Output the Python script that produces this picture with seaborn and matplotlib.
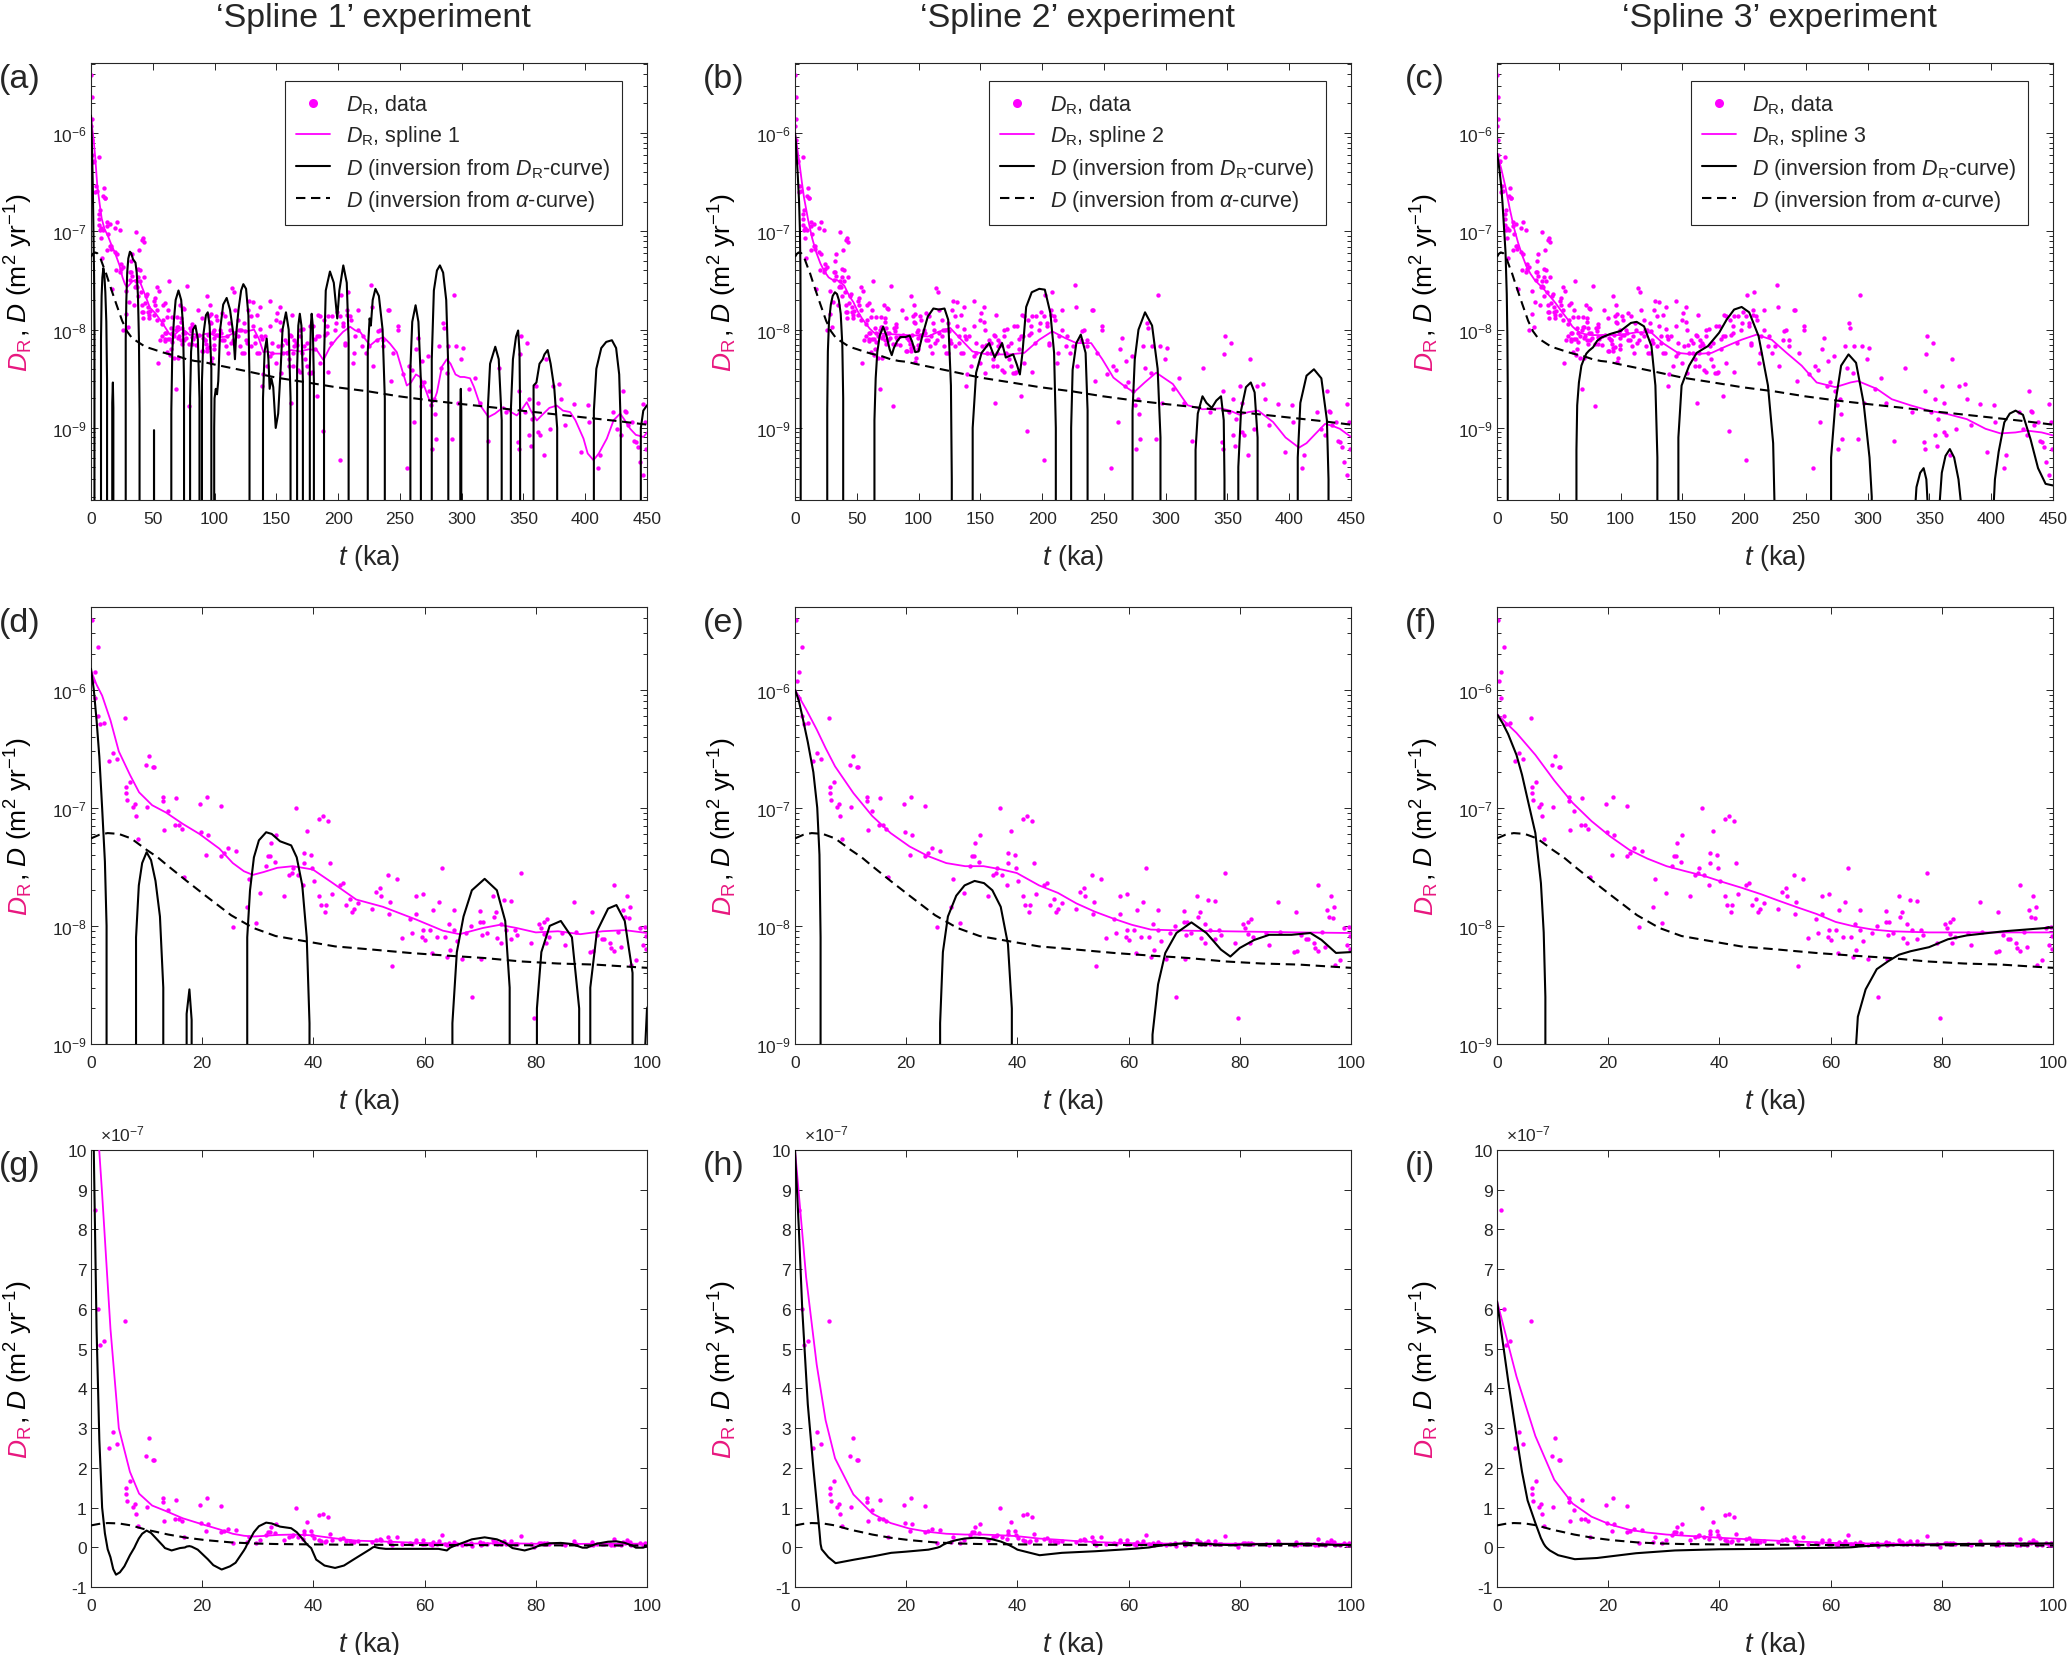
import numpy as np
import pandas as pd
import matplotlib
matplotlib.use('Agg')
import matplotlib.pyplot as plt
from matplotlib.lines import Line2D
import seaborn as sns

# ---------------- data ----------------
# D_R data points (same in every panel), t in ka, D in m^2/yr
t_data = [0.1, 1.2, 0.7, 0.3, 0.7, 1.2, 1.6, 2.4, 6.2, 3.3, 3.9, 4.7, 6.3, 6.3, 6.5, 7.1, 7.5, 7.9, 8.1, 8.5,
          9.9, 10.4, 11.1, 11.4, 10.0, 13.0, 13.0, 13.2, 13.8, 15.2, 15.1, 15.8, 16.4, 16.7, 19.6, 19.8, 20.9, 21.1, 20.6, 23.4,
          23.4, 23.9, 24.6, 26.0, 25.6, 28.4, 28.0, 29.6, 30.4, 31.4, 31.8, 32.2, 32.4, 33.2, 33.1, 34.8, 35.6, 36.2, 36.8, 36.4,
          37.2, 38.1, 38.3, 38.3, 38.9, 39.5, 39.8, 40.1, 41.0, 41.7, 42.6, 41.0, 41.3, 42.1, 42.2, 43.0, 43.4, 44.7, 45.4, 45.9,
          46.5, 46.9, 47.3, 48.1, 50.6, 51.3, 51.9, 52.1, 53.4, 53.8, 53.6, 55.0, 54.1, 55.9, 57.3, 57.8, 58.5, 58.5, 59.5, 59.8,
          59.7, 60.0, 61.0, 61.4, 61.6, 62.3, 62.6, 63.1, 63.6, 64.1, 64.4, 64.5, 65.2, 65.3, 65.9, 66.8, 67.4, 68.4, 68.5, 70.0,
          70.0, 70.1, 70.3, 70.5, 71.3, 72.3, 72.5, 72.9, 73.0, 73.7, 73.8, 74.3, 74.6, 75.6, 75.6, 76.2, 76.6, 77.3, 79.1, 79.6,
          80.5, 80.9, 81.4, 81.4, 82.1, 81.8, 82.3, 84.8, 85.3, 86.8, 87.3, 89.7, 90.1, 90.3, 91.0, 91.9, 92.3, 93.3, 93.5, 94.0,
          94.1, 94.7, 95.3, 95.7, 96.0, 96.4, 96.8, 97.0, 97.1, 98.0, 98.7, 99.3, 99.6, 99.9, 99.8,
          100.8, 102.3, 104.5, 106.3, 108.4, 109.9, 111.4, 113.0, 114.5, 115.4, 116.6, 119.0, 120.6, 121.5, 123.6, 125.7, 128.2,
          129.7, 131.2, 132.7, 134.2, 136.7, 138.8, 140.9, 142.7, 144.9, 146.4, 149.4, 150.9, 154.0, 155.5, 158.5, 160.0, 161.6,
          163.1, 164.6, 167.6, 169.1, 172.2, 175.2, 176.7, 179.8, 182.8, 184.3, 187.4, 188.9, 191.3, 195.0, 198.0, 201.6, 202.6,
          204.1, 207.1, 210.1, 211.7, 213.8, 216.2, 219.3, 222.3, 226.8, 227.8, 228.4, 231.4, 233.8, 236.0, 240.5, 243.0, 248.1,
          252.7, 255.7, 260.2, 261.8, 263.3, 264.8, 267.8, 269.4, 272.4, 273.3, 275.4, 276.3, 277.6, 278.5, 279.4, 281.5, 283.0,
          284.5, 285.5, 289.1, 292.1, 293.7, 295.2, 296.7, 299.7, 301.2, 310.4, 321.0, 330.1, 345.3, 346.8, 346.8, 348.3, 347.5,
          351.3, 352.8, 354.4, 354.4, 355.9, 360.4, 362.0, 362.0, 363.5, 366.5, 368.0, 371.1, 374.1, 378.7, 380.2, 390.8, 396.9,
          403.0, 410.6, 412.1, 422.7, 425.7, 430.3, 431.8, 433.3, 434.9, 437.9, 439.4, 440.9, 442.4, 444.0, 447.0, 447.0, 448.5,
          449.4,
          103.0, 106.0, 107.5, 110.5, 116.6, 119.6, 124.1, 126.2, 127.4, 133.1, 139.1, 145.1, 149.6, 152.6, 157.1, 161.6, 160.1,
          164.6, 170.6, 173.6, 178.1, 182.6, 185.6, 191.6, 197.7, 203.7, 209.7, 215.7, 232.2, 236.7, 241.2, 248.7,
          131.4, 134.1, 136.8, 138.1, 144.9, 153.0, 154.3, 161.1, 162.4, 166.5, 169.2, 171.9, 178.6, 181.3, 184.0, 190.8, 192.1,
          198.9, 205.6, 207.0, 208.3,
          101.5, 105.1, 109.0, 112.9, 115.0, 119.0, 122.6, 125.0, 129.2, 136.0, 137.6, 146.6, 151.0, 154.0, 158.6, 163.1, 166.1,
          169.1, 175.1, 177.2, 181.1, 185.6, 189.2, 194.6, 201.3, 205.2, 212.7, 220.2, 224.7, 244.2, 257.7, 266.7, 287.8, 305.8,
          314.8, 335.8, 356.9, 383.9, 401.9, 429.0]
D_data = [3.9e-6, 2.3e-6, 1.4e-6, 1.18e-6, 8.5e-7, 6.0e-7, 5.1e-7, 5.2e-7, 5.7e-7, 2.5e-7, 2.9e-7, 2.6e-7, 1.5e-7, 1.33e-7,
          1.17e-7, 1.66e-7, 1.02e-7, 1.08e-7, 8.5e-8, 5.4e-8,
          2.3e-7, 2.75e-7, 2.2e-7, 2.2e-7, 1.02e-7, 1.23e-7, 1.13e-7, 6.5e-8, 9.3e-8, 1.2e-7, 7.1e-8, 7.1e-8, 6.6e-8, 2.6e-8,
          1.07e-7, 6.2e-8, 1.23e-7, 5.9e-8, 4.0e-8, 1.03e-7,
          3.9e-8, 4.1e-8, 4.6e-8, 4.3e-8, 9.8e-9, 2.5e-8, 1.45e-8, 1.06e-8, 1.9e-8, 3.2e-8, 3.9e-8, 3.9e-8, 5.0e-8, 5.9e-8,
          3.5e-8, 1.8e-8, 2.7e-8, 2.8e-8, 9.9e-8, 3.1e-8,
          2.7e-8, 2.2e-8, 3.4e-8, 4.1e-8, 6.4e-8, 4.0e-8, 3.1e-8, 2.4e-8, 8.1e-8, 8.5e-8, 7.7e-8, 1.8e-8, 1.5e-8, 1.3e-8,
          1.5e-8, 3.4e-8, 1.85e-8, 2.2e-8, 2.3e-8, 1.5e-8,
          1.7e-8, 1.3e-8, 1.4e-8, 1.55e-8, 1.4e-8, 1.95e-8, 2.1e-8, 1.8e-8, 2.7e-8, 1.6e-8, 1.25e-8, 2.5e-8, 4.6e-9, 7.9e-9,
          1.15e-8, 8.7e-9, 1.8e-8, 1.26e-8, 8.1e-9, 1.87e-8,
          9.3e-9, 7.6e-9, 9.3e-9, 5.9e-9, 1.35e-8, 8.1e-9, 1.6e-8, 3.1e-8, 8.0e-9, 5.5e-9, 1.03e-8, 6.3e-9, 1.35e-8, 9.2e-9,
          7.5e-9, 5.2e-9, 8.7e-9, 9.9e-9, 2.5e-9, 1.33e-8,
          1.07e-8, 5.2e-9, 8.3e-9, 1.07e-8, 8.7e-9, 1.8e-8, 1.2e-8, 1.3e-8, 7.9e-9, 1.04e-8, 7.1e-9, 1.66e-8, 9.3e-9, 1.62e-8,
          7.8e-9, 9.2e-9, 8.3e-9, 2.8e-8, 7.1e-9, 1.66e-9,
          1.04e-8, 9.6e-9, 1.07e-8, 8.5e-9, 1.15e-8, 7.2e-9, 8.0e-9, 8.7e-9, 6.9e-9, 1.58e-8, 8.9e-9, 6.0e-9, 1.32e-8, 6.1e-9,
          8.3e-9, 7.8e-9, 7.8e-9, 7.2e-9, 6.5e-9, 2.2e-8,
          6.1e-9, 8.8e-9, 6.6e-9, 1.37e-8, 1.2e-8, 1.79e-8, 1.17e-8, 1.45e-8, 4.7e-9, 5.1e-9, 9.5e-9, 6.9e-9, 9.8e-9, 8.2e-9,
          6.4e-9,
          8.9e-9, 1.26e-8, 1.0e-8, 7.9e-9, 1.36e-8, 8.6e-9, 1.17e-8, 7.3e-9, 2.63e-8, 2.4e-8, 9.3e-9, 1.26e-8, 6.8e-9, 1.0e-8,
          5.8e-9, 7.9e-9, 1.95e-8,
          1.36e-8, 1.08e-8, 7.3e-9, 5.8e-9, 1.7e-8, 2.7e-9, 8.6e-9, 4.3e-9, 1.95e-8, 5.8e-9, 4.6e-9, 1.47e-8, 3.65e-9, 5.8e-9,
          7.3e-9, 4.3e-9, 1.8e-9,
          5.8e-9, 7.9e-9, 3.9e-9, 1.0e-8, 6.8e-9, 4.3e-9, 3.65e-9, 1.08e-8, 2.1e-9, 8.6e-9, 9.4e-10, 1.26e-8, 9.3e-9, 1.36e-8,
          1.17e-8, 4.7e-10, 2.25e-8,
          1.08e-8, 1.6e-8, 1.26e-8, 4.6e-9, 8.6e-9, 1.0e-8, 6.8e-9, 5.8e-9, 2.85e-8, 1.7e-8, 4.3e-9, 7.9e-9, 1.0e-8, 6.8e-9,
          1.6e-8, 3.0e-9, 1.08e-8,
          3.5e-9, 3.9e-10, 3.9e-9, 1.14e-9, 6.3e-9, 8.2e-9, 4.8e-9, 2.9e-9, 5.4e-9, 2.4e-9, 1.7e-9, 6.1e-10, 1.96e-9, 1.38e-9,
          7.7e-10, 6.8e-9, 4.1e-9,
          1.17e-8, 1.04e-8, 6.8e-9, 7.7e-10, 2.25e-8, 6.8e-9, 1.8e-9, 5.0e-9, 6.5e-9, 3.25e-9, 7.4e-10, 4.1e-9, 7.2e-10,
          6.1e-10, 2.4e-9, 8.6e-9, 5.6e-9,
          1.44e-9, 7.3e-9, 8.4e-10, 1.96e-9, 6.6e-10, 2.7e-9, 1.8e-9, 9.0e-10, 8.4e-10, 5.3e-10, 5.0e-9, 9.8e-10, 2.7e-9,
          2.8e-9, 1.96e-9, 1.75e-9, 5.7e-10,
          1.14e-9, 3.9e-10, 5.3e-10, 1.44e-9, 9.8e-10, 2.4e-9, 1.5e-9, 1.44e-9, 1.06e-9, 1.14e-9, 7.4e-10, 7.2e-10, 6.4e-10,
          4.5e-10, 1.75e-9, 3.3e-10, 1.14e-9,
          6.1e-10,
          8.9e-9, 1.47e-8, 7.9e-9, 5.8e-9, 1.6e-8, 1.0e-8, 1.17e-8, 7.3e-9, 1.6e-8, 8.6e-9, 3.5e-9, 5.4e-9, 1.26e-8, 1.7e-8,
          7.9e-9, 8.6e-9, 5.0e-9,
          6.8e-9, 5.8e-9, 5.0e-9, 3.65e-9, 8.6e-9, 1.36e-8, 1.36e-8, 1.0e-8, 1.17e-8, 1.36e-8, 1.6e-8, 9.6e-9, 7.9e-9, 1.6e-8,
          1.0e-8,
          1.9e-8, 1.4e-8, 1.02e-8, 8.1e-9, 1.1e-8, 1.2e-8, 6.9e-9, 8.8e-9, 1.4e-8, 6.9e-9, 3.7e-9, 1.02e-8, 3.7e-9, 8.1e-9,
          1.4e-8, 1.1e-8, 3.7e-9,
          1.5e-8, 6.9e-9, 1.4e-8, 2.4e-8,
          1.36e-8, 9.3e-9, 6.8e-9, 1.0e-8, 7.9e-9, 8.6e-9, 5.8e-9, 9.6e-9, 6.8e-9, 5.8e-9, 8.6e-9, 7.3e-9, 6.8e-9, 1.0e-8,
          5.8e-9, 4.3e-9, 7.3e-9,
          8.6e-9, 7.3e-9, 1.08e-8, 6.3e-9, 4.6e-9, 8.9e-9, 7.3e-9, 1.36e-8, 7.3e-9, 5.8e-9, 8.6e-9, 6.8e-9, 5.8e-9, 4.3e-9,
          2.7e-9, 3.65e-9, 2.5e-9,
          1.8e-9, 1.44e-9, 1.23e-9, 1.06e-9, 1.7e-9, 8.4e-10]

# D from the alpha-curve (same in every panel)
t_alpha = [0, 1.5, 3, 5, 7.2, 10, 12, 13.9, 17.2, 20.6, 25.2, 29.2, 33.2, 37.2, 43.9, 50.6, 57.3, 64, 70.6, 77.3, 84,
           90.7, 98.7, 125, 150, 175, 198, 225, 249, 275, 300, 325, 348, 375, 399, 425, 450]
D_alpha = [5.5e-8, 5.9e-8, 6.1e-8, 6.0e-8, 5.5e-8, 4.4e-8, 3.8e-8, 3.2e-8, 2.4e-8, 1.8e-8, 1.23e-8, 9.6e-9, 8.2e-9,
           7.6e-9, 6.7e-9, 6.3e-9, 5.9e-9, 5.6e-9, 5.35e-9, 5.0e-9, 4.8e-9, 4.7e-9, 4.45e-9, 3.8e-9, 3.25e-9, 2.9e-9,
           2.6e-9, 2.35e-9, 2.1e-9, 1.9e-9, 1.75e-9, 1.62e-9, 1.5e-9, 1.38e-9, 1.28e-9, 1.18e-9, 1.08e-9]

# spline fits of D_R
t_spl1 = [0, 1, 2, 3.5, 5, 7, 8.65, 11, 13.5, 16.5, 19.5, 23.1, 25.5, 27.5, 29.1, 31, 33.5, 36.3, 39.9, 43.5, 47.7,
          52.5, 58.5, 63.3, 66.3, 70.5, 73.5, 76.5, 80, 84, 88, 92, 96, 100, 105, 110, 115, 121, 126, 132, 136, 139.5,
          142.3, 148, 155.7, 162, 169.2, 176, 182.7, 188.1, 193, 198.9, 204, 209.7, 214, 217.8, 222, 225.9, 231, 236.7,
          242, 247.5, 251, 255.6, 259, 263, 266.4, 270, 274, 277.2, 280, 284, 288, 291, 295, 298.8, 302, 306.8, 310, 315,
          321.7, 327, 333.8, 338, 344.6, 348, 352.7, 356, 360.8, 365, 371, 377, 382, 387.8, 392, 398.6, 402, 406.7, 411,
          417.5, 423, 428.3, 432, 436.4, 441, 447.2, 450]
D_spl1 = [1.45e-6, 1.1e-6, 8.9e-7, 5.5e-7, 3.0e-7, 1.9e-7, 1.35e-7, 1.05e-7, 9.1e-8, 7.3e-8, 6.0e-8, 4.5e-8, 3.4e-8,
          2.9e-8, 2.7e-8, 2.85e-8, 3.1e-8, 3.2e-8, 3.0e-8, 2.3e-8, 1.67e-8, 1.45e-8, 1.13e-8, 9.1e-9, 8.5e-9, 9.6e-9,
          1.02e-8, 9.6e-9, 8.8e-9, 9.0e-9, 8.5e-9, 9.0e-9, 9.2e-9, 8.7e-9, 8.4e-9, 8.5e-9, 9.2e-9, 1.0e-8, 9.6e-9, 1.0e-8,
          8.0e-9, 5.9e-9, 6.0e-9, 5.7e-9, 5.7e-9, 6.2e-9, 6.0e-9, 6.3e-9, 6.2e-9, 4.9e-9, 6.5e-9, 8.1e-9, 9.5e-9, 1.07e-8,
          9.8e-9, 9.5e-9, 8.0e-9, 6.9e-9, 7.8e-9, 8.4e-9, 7.2e-9, 5.9e-9, 4.2e-9, 2.7e-9, 2.9e-9, 3.5e-9, 3.3e-9, 2.6e-9,
          1.9e-9, 1.83e-9, 2.3e-9, 4.2e-9, 5.0e-9, 4.5e-9, 3.5e-9, 3.3e-9, 3.3e-9, 3.2e-9, 2.6e-9, 1.7e-9, 1.29e-9, 1.4e-9,
          1.63e-9, 1.5e-9, 1.34e-9, 1.5e-9, 1.83e-9, 1.5e-9, 1.19e-9, 1.35e-9, 1.6e-9, 1.69e-9, 1.5e-9, 1.45e-9, 1.2e-9,
          7.8e-10, 5.5e-10, 4.7e-10, 5.5e-10, 7.8e-10, 1.2e-9, 1.4e-9, 1.2e-9, 9.8e-10, 8.5e-10, 8.1e-10, 9e-10]

t_spl2 = [0, 2, 3.9, 5.5, 7.2, 10.5, 13.9, 17.2, 20.6, 23.9, 27.2, 30.6, 33.9, 37.2, 39.9, 43.9, 47.3, 50.6, 53.9, 57.3,
          60.6, 64, 70.6, 77.3, 84, 90.7, 100, 107.5, 116, 125.6, 134.6, 143.6, 155.6, 173.6, 185.6, 197.7, 208.2, 218.7,
          227.7, 239.7, 248.7, 257.7, 266, 274.3, 283, 292.3, 299, 305.8, 317.8, 329.8, 344.8, 352, 359.9, 367, 374.9,
          386.9, 397, 407.9, 414, 420, 429, 435, 441, 450]
D_spl2 = [1.0e-6, 6.8e-7, 4.6e-7, 3.2e-7, 2.24e-7, 1.33e-7, 8.5e-8, 6.1e-8, 4.7e-8, 3.9e-8, 3.4e-8, 3.2e-8, 3.2e-8,
          3.0e-8, 2.8e-8, 2.2e-8, 1.9e-8, 1.55e-8, 1.32e-8, 1.15e-8, 1.02e-8, 9.3e-9, 9.1e-9, 9.0e-9, 8.9e-9, 8.8e-9,
          8.7e-9, 8.5e-9, 9.5e-9, 1.04e-8, 7.9e-9, 6.0e-9, 5.6e-9, 5.6e-9, 5.8e-9, 7.9e-9, 9.6e-9, 8.2e-9, 7.3e-9, 7.3e-9,
          5.0e-9, 3.25e-9, 2.7e-9, 2.3e-9, 2.9e-9, 3.65e-9, 3.2e-9, 2.8e-9, 1.7e-9, 1.55e-9, 1.58e-9, 1.5e-9, 1.36e-9,
          1.45e-9, 1.5e-9, 1.15e-9, 8e-10, 6.3e-10, 7e-10, 8.4e-10, 1.1e-9, 1.05e-9, 9.8e-10, 8.1e-10]

t_spl3 = [0, 3.5, 6.9, 10.3, 13.6, 17, 20.4, 23.8, 27.1, 30.5, 33.9, 37.2, 40.6, 44, 47.4, 50.7, 54.1, 57.5, 60.9, 64.2,
          67.6, 71, 77.7, 84.5, 91.2, 100, 113, 125, 134.2, 146.4, 158.5, 173.7, 185.8, 198, 210.1, 222.3, 234.4, 246.6,
          258.7, 273.9, 286.1, 292.1, 307.3, 319.5, 334.6, 349.8, 365, 380.2, 395.4, 407.5, 419.7, 428.8, 440.9, 450]
D_spl3 = [6.2e-7, 4.3e-7, 2.8e-7, 1.7e-7, 1.1e-7, 7.7e-8, 5.7e-8, 4.4e-8, 3.7e-8, 3.2e-8, 2.9e-8, 2.65e-8, 2.35e-8,
          2.1e-8, 1.86e-8, 1.63e-8, 1.43e-8, 1.26e-8, 1.08e-8, 9.9e-9, 9.3e-9, 9.0e-9, 8.8e-9, 8.8e-9, 8.8e-9, 8.8e-9,
          9.4e-9, 9.3e-9, 7.3e-9, 5.8e-9, 5.6e-9, 5.8e-9, 6.8e-9, 7.9e-9, 8.9e-9, 7.9e-9, 5.8e-9, 4.3e-9, 2.9e-9, 2.6e-9,
          2.9e-9, 3.0e-9, 2.5e-9, 1.96e-9, 1.7e-9, 1.5e-9, 1.38e-9, 1.23e-9, 9.8e-10, 8.8e-10, 9.0e-10, 9.4e-10, 9.0e-10,
          8.4e-10]

# D from inversion of the D_R curve (negative values fall off the log axes)
t_inv1 = [0, 0.5, 1, 1.5, 2, 2.5, 2.8, 3.0, 3.5, 4.0, 4.5, 5.2, 6, 7, 7.8, 8.1, 8.6, 9.2, 10, 10.8, 11.6, 12.4, 13.0,
          13.3, 14.5, 16, 16.9, 17.2, 17.7, 18.1, 18.4, 19.2, 21, 22, 23.5, 25, 26, 27.5, 27.8, 28.1, 28.6, 29.3, 30.2,
          31.5, 32.5, 34, 36, 37, 38, 38.8, 39.3, 39.6, 40.5, 42, 43.9, 45.5, 47.2, 50.2, 50.7, 51, 51.3, 51.8, 53, 58,
          62.5, 64, 64.6, 65, 65.8, 67, 68.5, 70.8, 73, 74.5, 75.3, 75.8, 78, 79.8, 80.2, 81, 82.5, 84.5, 86.5, 87.8, 88.4,
          89.2, 89.8, 91, 93, 94.5, 96, 97.4, 98, 99.3, 99.7, 100, 101, 102, 103, 104.5, 107, 109.8, 112.5, 115.2, 116.5,
          117.5, 119.4, 121.5, 123.3, 125.5, 127.4, 128.3, 128.8, 133, 138.5, 139.2, 140.5, 142.2, 143.6, 144.6, 146,
          147.5, 149.5, 151.5, 153.5, 155, 157.8, 160, 161.5, 162, 164, 166.2, 166.8, 167.8, 169, 170.3, 171.5, 172, 174,
          176.5, 177.1, 177.9, 178.6, 179.5, 180.4, 180.9, 184, 188, 188.6, 190, 193.4, 196.5, 199.3, 201, 204.2, 207,
          208.5, 209.2, 216, 223.3, 224, 225.5, 226.5, 228, 230.2, 233, 236, 237.8, 238.5, 248, 257.8, 258.5, 260, 262.7,
          265, 267, 267.6, 271, 275.1, 275.8, 277.5, 280, 282.4, 285, 287.5, 289.2, 289.8, 294, 298.4, 298.9, 299.3,
          299.7, 300.2, 310, 320.4, 321.1, 323, 327.2, 330, 332.4, 333, 336, 339.1, 339.8, 341.5, 344, 345.7, 346.8,
          347.3, 347.8, 352, 357.3, 358.2, 360.5, 363, 365.6, 367, 369.6, 372, 375, 377.3, 377.8, 392, 406.3, 407, 409,
          413, 417, 421.6, 425, 427.5, 428.8, 429.4, 437, 444, 445, 447, 450]
D_inv1 = [1.5e-6, 1.0e-6, 5.5e-7, 2.7e-7, 1.0e-7, 3.5e-8, 1e-8, -5e-9, -2.5e-8, -5.5e-8, -6.9e-8, -6.3e-8, -4.8e-8,
          -2e-8, -1e-9, 8e-9, 2.2e-8, 3.4e-8, 4.2e-8, 3.6e-8, 2.4e-8, 1.2e-8, 3e-9, -2e-9, -8e-9, -2e-9, -5e-10, 1.8e-9,
          2.9e-9, 1.6e-9, -5e-10, -6e-9, -3e-8, -4.5e-8, -5.6e-8, -4.8e-8, -3.9e-8, -8e-9, -1e-9, 8e-9, 2e-8, 3.8e-8,
          5.3e-8, 6.2e-8, 6.0e-8, 5.2e-8, 4.8e-8, 3.8e-8, 2.2e-8, 8e-9, 1.5e-9, -2e-9, -3.1e-8, -4.6e-8, -5.2e-8, -4.6e-8,
          -3.1e-8, -5e-9, -1e-10, 9.5e-10, -1e-10, -2e-9, -4e-9, -4e-9, -4e-9, -8e-9, -1e-9, 1.5e-9, 6e-9, 1.2e-8, 2e-8,
          2.5e-8, 2e-8, 1.1e-8, 3e-9, -2e-9, -8e-9, -1e-9, 2e-9, 6e-9, 1e-8, 1.1e-8, 8e-9, 2e-9, -1e-9, -1e-9, 3e-9, 9e-9,
          1.4e-8, 1.5e-8, 1.1e-8, 4e-9, -1e-9, -1e-9, 1e-9, 2e-9, 2.5e-9, 2.2e-9, 3e-9, 1e-8, 1.8e-8, 2.1e-8, 1.6e-8,
          9e-9, 5e-9, 9e-9, 1.6e-8, 2.5e-8, 2.9e-8, 2.6e-8, 1.4e-8, 3e-9, -1e-9, -5e-9, -1e-9, 2e-9, 6e-9, 8.1e-9, 5e-9,
          2.5e-9, 3.2e-9, 2.6e-9, 1e-9, 1.4e-9, 4e-9, 1e-8, 1.5e-8, 1e-8, 2e-9, -1e-9, -4e-9, -5e-10, 4e-9, 1.1e-8,
          1.45e-8, 1.1e-8, 3e-9, -1e-9, -4e-9, -5e-10, 4e-9, 1.1e-8, 1.45e-8, 1.1e-8, 3e-9, -1e-9, -5e-9, -1e-9, 5e-9,
          2.5e-8, 3.9e-8, 3e-8, 1.3e-8, 2.5e-8, 4.5e-8, 3e-8, 8e-9, -1e-9, -5e-9, -1e-9, 6e-9, 1.3e-8, 1.1e-8, 2e-8,
          2.6e-8, 2.2e-8, 1e-8, 2e-9, -1e-9, -5e-9, -1e-9, 4e-9, 1.2e-8, 1.77e-8, 1.2e-8, 3e-9, -1e-9, -4e-9, -1e-9,
          5e-9, 2.5e-8, 4e-8, 4.5e-8, 3.8e-8, 2e-8, 4e-9, -1e-9, -3e-9, -2e-10, 1.5e-9, 2.5e-9, 1.5e-9, -2e-10, -4e-9,
          -5e-10, 1.5e-9, 4.5e-9, 6.7e-9, 5e-9, 1.2e-9, -5e-10, -2e-9, -5e-10, 1.5e-9, 5e-9, 8.5e-9, 9.8e-9, 6e-9,
          1.5e-9, -1e-9, -3e-9, -5e-10, 2.7e-9, 2.9e-9, 4.5e-9, 5.0e-9, 5.6e-9, 6.2e-9, 4.5e-9, 2.5e-9, 1e-9, -1e-9,
          -4e-9, -5e-10, 1.5e-9, 4e-9, 6.5e-9, 7.5e-9, 7.8e-9, 6.5e-9, 3.5e-9, 1e-9, -1e-9, -3e-9, -1e-9, 1e-9, 1.5e-9,
          1.7e-9]

t_inv2 = [0, 0.7, 1.3, 2.3, 3.3, 4.0, 4.4, 4.6, 4.8, 6, 7.3, 10.7, 14, 17.3, 20, 24, 25.6, 26.1, 26.6, 27.5, 29, 30.5,
          32.3, 34, 35.5, 37, 38.3, 39, 39.4, 40, 44, 48, 54, 60.7, 63.7, 64.3, 65.3, 66.6, 68.6, 71.3, 74, 76.6, 78.3,
          80, 82.6, 85.3, 89.3, 92.7, 94.7, 97.3, 100, 103, 107.5, 112, 116.5, 121, 124, 126.2, 126.9, 127.5, 135, 143.2,
          143.8, 146.6, 151, 157.1, 161.6, 167.6, 170.6, 176.6, 179.6, 182, 184.1, 187.1, 191.6, 197.7, 202.2, 206.7,
          209.7, 211.1, 211.6, 217, 222.9, 223.5, 224.7, 227.7, 231.3, 235.2, 236.8, 237.4, 255, 272.5, 273.2, 275, 278,
          283.3, 289, 293.5, 295.8, 296.4, 310, 323.5, 324.2, 326, 329.8, 333, 337.3, 341, 344.8, 347, 347.6, 348.1, 353,
          358.2, 358.8, 361, 365, 368.9, 372, 374.4, 375.1, 390, 406.2, 406.9, 409, 414, 420, 426, 430.5, 431.8, 432.5,
          440, 450]
D_inv2 = [1.0e-6, 8.0e-7, 6.0e-7, 3.6e-7, 2.0e-7, 1.0e-7, 4e-8, 8e-9, -5e-9, -2.5e-8, -4.0e-8, -3.1e-8, -2.3e-8,
          -1.4e-8, -1.1e-8, -6e-9, -1e-9, 1.5e-9, 6e-9, 1.2e-8, 1.8e-8, 2.2e-8, 2.4e-8, 2.3e-8, 2.0e-8, 1.45e-8, 7e-9,
          2e-9, -1e-9, -6e-9, -2.0e-8, -1.4e-8, -1.0e-8, -4e-9, -5e-10, 1.2e-9, 3.2e-9, 5.9e-9, 8.7e-9, 1.07e-8, 8.7e-9,
          6.3e-9, 5.5e-9, 6.5e-9, 7.6e-9, 8.4e-9, 8.4e-9, 8.7e-9, 7.6e-9, 5.9e-9, 6.0e-9, 8.6e-9, 1.36e-8, 1.64e-8,
          1.6e-8, 1.64e-8, 1.26e-8, 2.7e-9, 3e-10, -2e-9, -5e-9, -1e-9, 1e-9, 3.65e-9, 5.8e-9, 7.3e-9, 5.2e-9, 7.3e-9,
          5.2e-9, 5.6e-9, 4.4e-9, 3.5e-9, 5.8e-9, 1.7e-8, 2.4e-8, 2.6e-8, 2.55e-8, 1.47e-8, 5.8e-9, 1e-9, -2e-9, -5e-9,
          -1e-9, 1e-9, 3.9e-9, 7.3e-9, 8.9e-9, 5.8e-9, 1.5e-9, -1e-9, -5e-9, -1e-9, 1.5e-9, 5e-9, 1e-8, 1.5e-8, 1.1e-8,
          4e-9, 8e-10, -1e-9, -4e-9, -5e-10, 6e-10, 1.4e-9, 2.1e-9, 1.8e-9, 1.6e-9, 1.9e-9, 2.1e-9, 1.2e-9, 3e-10, -5e-10,
          -2e-9, -3e-10, 4e-10, 1.5e-9, 2.6e-9, 2.9e-9, 2.3e-9, 8e-10, -5e-10, -3e-9, -3e-10, 5e-10, 1.8e-9, 3.4e-9,
          3.95e-9, 3.2e-9, 1.2e-9, 3e-10, -5e-10, -2e-9, -1e-9]

t_inv3 = [0, 1, 2, 3.5, 4.5, 5.5, 6.9, 7.9, 8.4, 8.7, 9.0, 9.5, 11, 14, 18, 25, 32, 40, 48, 56, 62, 63.7, 64.3, 64.9,
          66.3, 68.3, 70.3, 72.3, 74.4, 77.7, 81.1, 84.5, 91.2, 100, 108.4, 113, 119, 125, 128.2, 129.8, 130.8, 138, 146.1,
          146.8, 149.4, 155.5, 161.6, 170.7, 179.8, 185.8, 191.9, 198, 204.1, 211.7, 219.3, 223.5, 225, 225.8, 248, 269.7,
          270.4, 273.9, 278.5, 284.5, 290.6, 296.7, 301.5, 303.3, 304, 320, 336.8, 337.5, 339.5, 342.5, 345.3, 347.5,
          348.8, 349.4, 353, 357.2, 357.9, 360, 363, 366.5, 370, 373.5, 376, 376.8, 390, 401.2, 401.8, 403, 406, 410.6,
          415, 419.7, 425.7, 431.8, 437.9, 444, 450]
D_inv3 = [6.2e-7, 5.2e-7, 4.2e-7, 2.8e-7, 1.9e-7, 1.18e-7, 6.1e-8, 2.3e-8, 8.8e-9, 2.5e-9, -2e-9, -8e-9, -2e-8, -3e-8,
          -2.7e-8, -1.5e-8, -8e-9, -5e-9, -4e-9, -2e-9, -8e-10, -1e-10, 6e-10, 1.7e-9, 2.9e-9, 4.3e-9, 5.0e-9, 5.7e-9,
          6.1e-9, 6.6e-9, 7.7e-9, 8.3e-9, 9.0e-9, 9.7e-9, 1.17e-8, 1.2e-8, 1.08e-8, 6.8e-9, 2.7e-9, 5e-10, -1e-9, -4e-9,
          -5e-10, 8e-10, 2.7e-9, 4.3e-9, 5.8e-9, 6.8e-9, 9.3e-9, 1.26e-8, 1.6e-8, 1.7e-8, 1.5e-8, 8.6e-9, 2.7e-9, 7e-10,
          1e-10, -1e-9, -4e-9, -3e-10, 5e-10, 1.8e-9, 4.3e-9, 5.6e-9, 4.6e-9, 1.8e-9, 5e-10, 2e-10, -5e-10, -2e-9, -1e-10,
          1e-10, 2.5e-10, 3.5e-10, 3.9e-10, 3e-10, 1.5e-10, -1e-10, -5e-10, -1e-10, 1.5e-10, 3.5e-10, 5.2e-10, 6.1e-10,
          5e-10, 3e-10, 1.5e-10, -1e-10, -1e-9, -1e-10, 1.5e-10, 3e-10, 5.7e-10, 1.14e-9, 1.4e-9, 1.5e-9, 1.36e-9,
          7.7e-10, 3.9e-10, 2.7e-10, 2.6e-10]

col_curves = [(t_spl1, D_spl1, t_inv1, D_inv1),
              (t_spl2, D_spl2, t_inv2, D_inv2),
              (t_spl3, D_spl3, t_inv3, D_inv3)]
titles = ['\u2018Spline 1\u2019 experiment', '\u2018Spline 2\u2019 experiment', '\u2018Spline 3\u2019 experiment']
letters = ['(a)', '(b)', '(c)', '(d)', '(e)', '(f)', '(g)', '(h)', '(i)']

# ---------------- style ----------------
sns.set_style('ticks')
plt.rcParams['font.family'] = ['Liberation Sans', 'DejaVu Sans']
plt.rcParams['mathtext.fontset'] = 'custom'
plt.rcParams['mathtext.rm'] = 'Liberation Sans'
plt.rcParams['mathtext.it'] = 'Liberation Sans:italic'
plt.rcParams['mathtext.bf'] = 'Liberation Sans:bold'
plt.rcParams['axes.unicode_minus'] = False

MAG = '#FF00FF'
PINK = '#E8177F'
AXC = '#262626'
DASH = (0, (4.5, 2.7))

W, H = 2067, 1656
fig = plt.figure(figsize=(W / 100, H / 100), dpi=100)
renderer = fig.canvas.get_renderer()

lefts = [91, 795, 1497]
ax_w = 556
row_tops = [64, 608, 1151]
ax_h = 437


def color_ylabel(ax, x):
    # D_R in pink, the rest in black, stacked along the rotated label
    parts = [(r'$D_{\mathrm{R}}$', PINK), (r', $D$ (m$^2$ yr$^{-1}$)', 'k')]
    texts = [ax.text(x, 0.5, s, color=c, fontsize=19, rotation=90, rotation_mode='anchor',
                     ha='left', va='baseline', transform=ax.transAxes) for s, c in parts]
    heights = [tt.get_window_extent(renderer).height for tt in texts]
    axh = ax.get_window_extent(renderer).height
    gap = 2.0
    y = 0.5 - (sum(heights) + gap) / 2 / axh
    for tt, h in zip(texts, heights):
        tt.set_y(y)
        y += (h + gap) / axh


for r in range(3):
    for c in range(3):
        ax = fig.add_axes([lefts[c] / W, 1 - (row_tops[r] + ax_h) / H, ax_w / W, ax_h / H])
        ts, Ds, tb, Db = col_curves[c]
        if r < 2:
            ax.set_yscale('log')

        sns.scatterplot(x=t_data, y=D_data, ax=ax, color=MAG, s=10, linewidth=0, legend=False, zorder=2)
        sns.lineplot(x=ts, y=Ds, ax=ax, color=MAG, linewidth=1.3, estimator=None, sort=False,
                     errorbar=None, zorder=3)
        sns.lineplot(x=tb, y=Db, ax=ax, color='k', linewidth=1.5, estimator=None, sort=False,
                     errorbar=None, zorder=4)
        sns.lineplot(x=t_alpha, y=D_alpha, ax=ax, color='k', linewidth=1.5, linestyle=DASH,
                     estimator=None, sort=False, errorbar=None, zorder=4)

        if r == 0:
            ax.set_xlim(0, 450)
            ax.set_xticks(range(0, 451, 50))
            ax.set_ylim(1.85e-10, 5.15e-6)
        elif r == 1:
            ax.set_xlim(0, 100)
            ax.set_xticks(range(0, 101, 20))
            ax.set_ylim(1e-9, 5e-6)
        else:
            ax.set_xlim(0, 100)
            ax.set_xticks(range(0, 101, 20))
            ax.set_ylim(-1e-7, 1e-6)
            ticks = list(range(-1, 11))
            ax.set_yticks([k * 1e-7 for k in ticks])
            ax.set_yticklabels([str(k) for k in ticks])
            ax.text(0.016, 1.016, r'$\times\mathdefault{10^{-7}}$', transform=ax.transAxes, ha='left',
                    va='bottom', fontsize=12.5, color=AXC)

        ax.tick_params(which='both', direction='in', top=True, right=True, width=0.7, colors=AXC,
                       labelsize=12.5)
        ax.tick_params(which='major', length=5)
        ax.tick_params(which='minor', length=2.8)
        ax.tick_params(axis='x', pad=8)
        ax.tick_params(axis='y', pad=3)
        for sp in ax.spines.values():
            sp.set_color(AXC)
            sp.set_linewidth(0.8)

        ax.set_ylabel('')
        ax.set_xlabel(r'$t$ (ka)', fontsize=19.5, va='baseline')
        ax.xaxis.set_label_coords(0.5, -64 / ax_h)
        color_ylabel(ax, -63 / ax_w)

        ax.text(-92 / ax_w, 1 - 24 / ax_h, letters[3 * r + c], transform=ax.transAxes, ha='left',
                va='baseline', fontsize=24.5)

        if r == 0:
            fig.text((lefts[c] + ax_w / 2 + 4) / W, 1 - 27 / H, titles[c], ha='center', va='baseline',
                     fontsize=24.5)
            handles = [Line2D([], [], marker='o', linestyle='', color=MAG, markersize=6.5, markeredgewidth=0),
                       Line2D([], [], color=MAG, linewidth=1.3),
                       Line2D([], [], color='k', linewidth=1.5),
                       Line2D([], [], color='k', linewidth=1.5, linestyle=DASH)]
            labels = [r'$D_{\mathrm{R}}$, data', r'$D_{\mathrm{R}}$, spline %d' % (c + 1),
                      r'$D$ (inversion from $D_{\mathrm{R}}$-curve)', r'$D$ (inversion from $\alpha$-curve)']
            leg = ax.legend(handles, labels, loc='upper right', bbox_to_anchor=(0.955, 0.959),
                            borderaxespad=0, fontsize=15.5, frameon=True, fancybox=False, framealpha=1,
                            edgecolor=AXC, handlelength=1.55, handletextpad=0.75, labelspacing=0.33,
                            borderpad=0.55)
            leg.get_frame().set_linewidth(0.8)
            leg.set_zorder(10)

fig.savefig('out.png', dpi=100)
